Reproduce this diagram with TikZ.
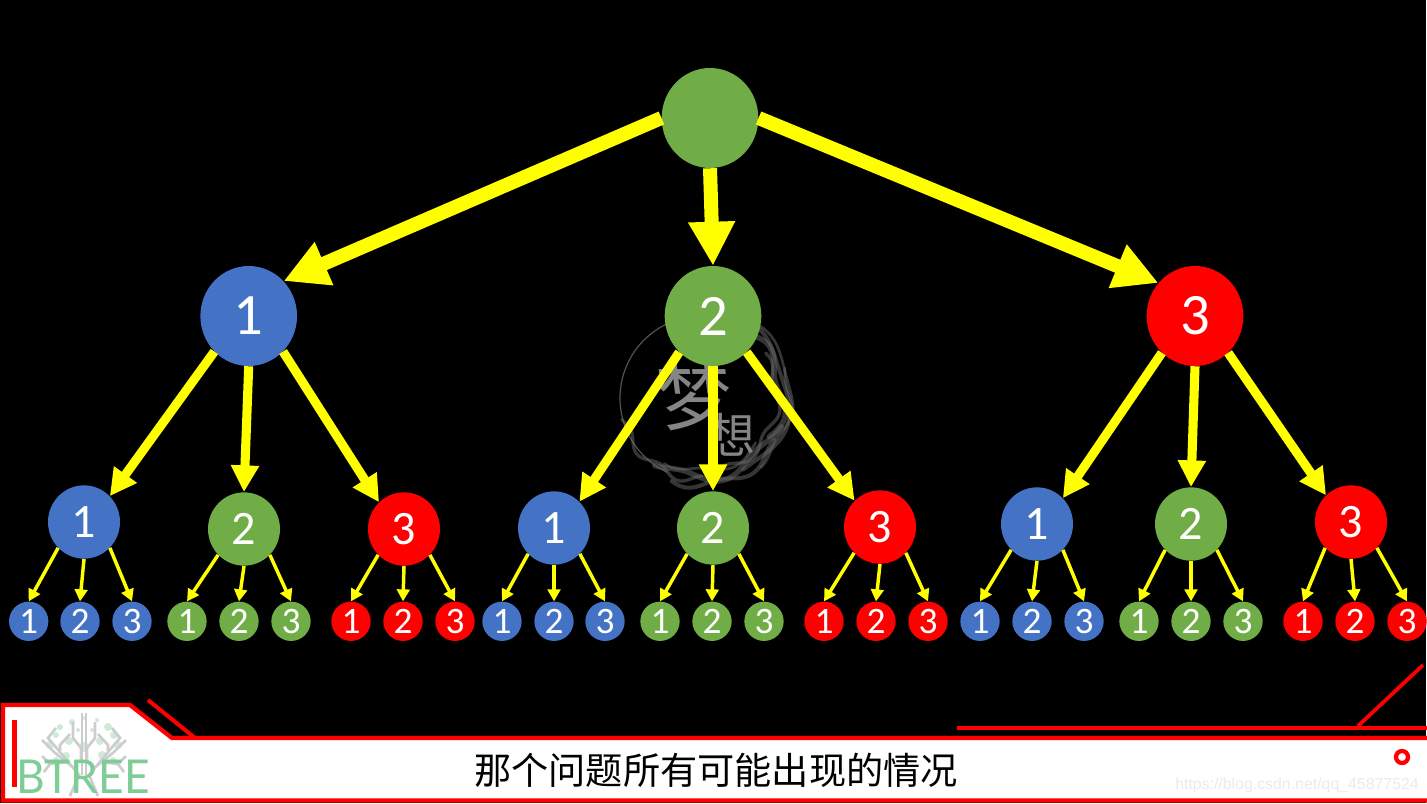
\documentclass[tikz,border=0pt]{standalone}
\usepackage{fontspec}
\setmainfont{Carlito}
\newfontfamily\urlfont{Liberation Sans}
\newfontfamily\cjkfont{Noto Sans CJK SC}
\newfontfamily\logofont{Lato}
\usetikzlibrary{shapes.geometric,arrows.meta}
\definecolor{bblue}{RGB}{68,114,196}
\definecolor{bgreen}{RGB}{112,173,71}
\definecolor{bred}{RGB}{255,0,0}
\definecolor{byellow}{RGB}{255,255,0}
\definecolor{logogreen}{RGB}{125,205,150}
\definecolor{logodot}{RGB}{205,235,215}
\definecolor{logogray}{RGB}{205,205,205}
\tikzset{
  big/.style={ellipse,inner sep=0pt,minimum width=72.5pt,minimum height=75pt,text=white,font=\fontsize{44}{44}\selectfont},
  mid/.style={ellipse,inner sep=0pt,minimum width=54pt,minimum height=55pt,text=white,font=\fontsize{36}{36}\selectfont},
  small/.style={circle,inner sep=0pt,minimum size=29.5pt,text=white,font=\fontsize{28}{28}\selectfont},
  arrA/.style={draw=byellow,line width=10.5pt,-{Triangle[length=33pt,width=33pt]}},
  arrB/.style={draw=byellow,line width=6.8pt,-{Triangle[length=20pt,width=20pt]}},
  arrC/.style={draw=byellow,line width=2.6pt,-{Triangle[length=9pt,width=9.5pt]}},
  redline/.style={draw=bred,line width=3pt},
  smoke/.style={draw=white!42!black,line cap=round,smooth},
  branch/.style={draw=logogray,line width=2pt},
  leaf/.style={fill=logodot,draw=none},
}
\begin{document}
\begin{tikzpicture}[x=0.75pt,y=-0.75pt]
\useasboundingbox (0,0) rectangle (1427,803);
\fill[black] (0,0) rectangle (1427,803);
\fill[white] (1426,0) rectangle (1427,803);

% watermark
\draw[white!32!black,line width=0.9pt] (702,398) ++(115:82) arc[start angle=115,end angle=300,radius=82];
\foreach \r/\a/\k/\w/\s/\e in {
  80/5/7/4/-62/30,86/4/5/3/-50/60,75/4/9/2.5/-35/80,90/3/6/2/-70/10,
  80/5/6/4/20/125,87/4/8/3/30/110,73/3/7/2/40/120,82/4/11/2.5/90/165,88/3/9/2/-20/50}{
  \draw[smoke,line width=\w pt,opacity=.5] plot[domain=\s:\e,samples=40] ({702+(\r+\a*sin(\k*\x))*cos(\x)},{398+(\r+\a*sin(\k*\x))*sin(\x)});
}
\node[text=white!52!black,font=\cjkfont\fontsize{56}{56}\selectfont,inner sep=0pt,xslant=-0.12] (wm1) at (695,396) {梦};
\node[text=white!52!black,font=\cjkfont\fontsize{36}{36}\selectfont,inner sep=0pt] (wm2) at (731,435) {想};

% nodes
\node[big,fill=bgreen] (root) at (710,118) {};
\node[big,fill=bblue] (n1) at (248.7,316) {\raisebox{-1.5pt}{1}};
\node[big,fill=bgreen] (n2) at (713,316) {\raisebox{-1.5pt}{2}};
\node[big,fill=bred] (n3) at (1195,316) {\raisebox{-1.5pt}{3}};
\foreach \nm/\x/\y/\c/\t in {a1/84/522/bblue/1,a2/244/529/bgreen/2,a3/404/529/bred/3,b1/554/528/bblue/1,b2/713/528/bgreen/2,b3/880/527/bred/3,c1/1037/524/bblue/1,c2/1191/524/bgreen/2,c3/1351/522/bred/3}{
  \node[mid,fill=\c] (\nm) at (\x,\y) {\t};
}
\foreach \nm/\x/\c/\t in {
 a11/28.7/bblue/1,a12/80/bblue/2,a13/132/bblue/3,
 a21/187/bgreen/1,a22/239/bgreen/2,a23/291/bgreen/3,
 a31/351/bred/1,a32/403/bred/2,a33/455/bred/3,
 b11/502/bblue/1,b12/554/bblue/2,b13/605/bblue/3,
 b21/660/bgreen/1,b22/712/bgreen/2,b23/764/bgreen/3,
 b31/824/bred/1,b32/876/bred/2,b33/928/bred/3,
 c11/980/bblue/1,c12/1032/bblue/2,c13/1084/bblue/3,
 c21/1139/bgreen/1,c22/1191/bgreen/2,c23/1243/bgreen/3,
 c31/1303/bred/1,c32/1355/bred/2,c33/1407/bred/3}{
  \node[small,fill=\c] (\nm) at (\x,621.3) {\t};
}

% connectors
\draw[arrA] (root.180) -- (n1.45);
\draw[arrA] (root.270) -- (n2.90);
\draw[arrA] (root.0) -- (n3.138);
\draw[arrB] (n1.226) -- (a1.45);
\draw[arrB] (n1.270) -- (a2.90);
\draw[arrB] (n1.314) -- (a3.133);
\draw[arrB] (n2.227) -- (b1.46);
\draw[arrB] (n2.270) -- (b2.90);
\draw[arrB] (n2.313) -- (b3.134);
\draw[arrB] (n3.228) -- (c1.45);
\draw[arrB] (n3.270) -- (c2.90);
\draw[arrB] (n3.312) -- (c3.133);
\foreach \p in {a1,a2,a3,b1,b2,b3,c1,c2,c3}{
  \draw[arrC] (\p.225) -- (\p1.90);
  \draw[arrC] (\p.270) -- (\p2.90);
  \draw[arrC] (\p.315) -- (\p3.90);
}

% banner
\draw[redline,fill=white,line width=3.2pt] (3,705) -- (130,705) -- (172,738) -- (1430,738) -- (1430,800.5) -- (3,800.5) -- cycle;
\draw[redline] (148,700) -- (195,738);
\draw[redline] (957,728) -- (1427,728);
\draw[redline,line width=2.8pt] (1358,726) -- (1423,665);
\draw[redline,line width=3.6pt] (14.5,720) -- (14.5,787);
\draw[draw=bred,line width=3.2pt,fill=white] (1402,757) circle[radius=6];

% logo tree
\foreach \x/\y/\r in {60/727/3,72/722/3,83/718/2,97/720/2,108/727/4,114/735/4,118/745/4,50/745/4,56/735/3,69/741/4,100/741/4,84/747/5,66/756/4,102/755/4,56/760/3,113/760/3,78/730/2,92/730/2}{
  \fill[leaf] (\x,\y) circle[radius=\r];
}
\foreach \s in {-1,1}{
  \begin{scope}[shift={(84,0)},xscale=\s]
    \draw[branch] (3,760) -- (3,748) -- (11,738) -- (11,722);
    \draw[branch] (2,775) -- (2,752) -- (2,713);
    \draw[branch] (14,796) -- (5,775) -- (24,752) -- (24,745) -- (14,734);
    \draw[branch] (24,752) -- (36,738) -- (28,728);
    \draw[branch] (9,769) -- (30,752) -- (42,740);
    \draw[branch] (17,762) -- (34,764) -- (42,756);
    \draw[branch] (34,764) -- (40,772);
  \end{scope}
}
\node[inner sep=0pt,text=logogreen,font=\logofont\fontsize{35}{35}\selectfont,xscale=0.95] (logo) at (83,777) {BTREE};

% caption and blog mark
\node[inner sep=0pt,text=black,font=\cjkfont\fontsize{27.9}{27.9}\selectfont] (cap) at (716,770) {那个问题所有可能出现的情况};
\node[inner sep=0pt,text=white!92!black,font=\urlfont\fontsize{11.9}{11.9}\selectfont] (url) at (1297,785) {https://blog.csdn.net/qq\_45877524};
\end{tikzpicture}
\end{document}
